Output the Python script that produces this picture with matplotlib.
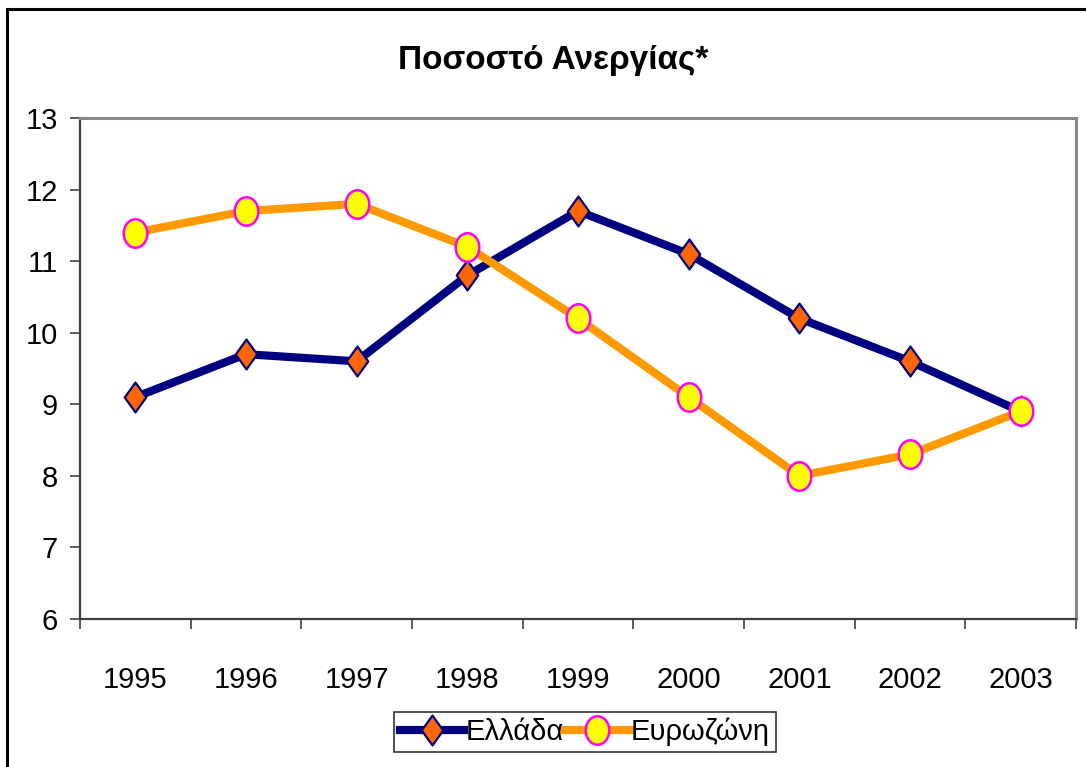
import matplotlib
matplotlib.use("Agg")
import matplotlib.pyplot as plt
from matplotlib.patches import Rectangle
from matplotlib.path import Path
from matplotlib.transforms import Affine2D

plt.rcParams['font.family'] = ['Liberation Sans', 'DejaVu Sans']
fs_tick, fs_title, fs_leg = 21, 24, 21

years = ['1995', '1996', '1997', '1998', '1999', '2000', '2001', '2002', '2003']
greece = [9.1, 9.7, 9.6, 10.8, 11.7, 11.1, 10.2, 9.6, 8.9]
eurozone = [11.4, 11.7, 11.8, 11.2, 10.2, 9.1, 8.0, 8.3, 8.9]
yticks = [6, 7, 8, 9, 10, 11, 12, 13]
title = 'Ποσοστό Ανεργίας*'
labels = ['Ελλάδα', 'Ευρωζώνη']

W, H = 1086, 767
fig = plt.figure(figsize=(W / 100, H / 100), dpi=100)
fig.patch.set_facecolor('white')

# outer chart border (cropped at right / bottom)
fig.patches.append(Rectangle((7 / W, -0.05), 1.2, 1 - 9 / H + 0.05, transform=fig.transFigure,
                             fill=False, edgecolor='black', linewidth=2.2, zorder=0))

left, right, top, bottom = 80, 1076, 118, 619
ax = fig.add_axes([left / W, 1 - bottom / H, (right - left) / W, (bottom - top) / H])

diamond = Path([(0, 0.5), (0.36, 0), (0, -0.5), (-0.36, 0), (0, 0.5)],
               [Path.MOVETO, Path.LINETO, Path.LINETO, Path.LINETO, Path.CLOSEPOLY])
ell = Path.unit_circle().transformed(Affine2D().scale(0.83, 1.0))

x = list(range(len(years)))
ax.plot(x, greece, color='#000080', linewidth=5.9, marker=diamond, markersize=21.5,
        markerfacecolor='#FF6600', markeredgecolor='#000080', markeredgewidth=1.6,
        label=labels[0], zorder=3, solid_joinstyle='round')

ax.plot(x, eurozone, color='#FF9900', linewidth=5.9, marker=ell, markersize=20.5,
        markerfacecolor='#FFFF00', markeredgecolor='#FF00FF', markeredgewidth=1.8,
        label=labels[1], zorder=4, solid_joinstyle='round')

ax.set_xlim(-0.5, len(years) - 0.5)
ax.set_ylim(6, 13)
ax.set_yticks(yticks)
ax.set_yticklabels([str(v) for v in yticks])
ax.set_xticks(x)
ax.set_xticklabels(years)
ax.set_xticks([i - 0.5 for i in range(len(years) + 1)], minor=True)
ax.tick_params(axis='x', which='major', length=0, pad=34, labelsize=fs_tick)
ax.tick_params(axis='x', which='minor', length=7, width=1.2, color='#404040', direction='out')
ax.tick_params(axis='y', which='major', length=7, width=1.2, color='#404040', direction='out',
               pad=9, labelsize=fs_tick)

for s in ['top', 'right']:
    ax.spines[s].set_color('#888888')
    ax.spines[s].set_linewidth(2.2)
for s in ['left', 'bottom']:
    ax.spines[s].set_color('#404040')
    ax.spines[s].set_linewidth(1.6)

fig.text(553 / W, 1 - 60 / H, title, ha='center', va='center', fontsize=fs_title, fontweight='bold')

leg = ax.legend(loc='center', bbox_to_anchor=(585 / W, 1 - 732 / H), bbox_transform=fig.transFigure,
                ncol=2, frameon=True, fancybox=False, fontsize=fs_leg, handlelength=2.2,
                handletextpad=0.05, columnspacing=0.05, borderpad=0.2, borderaxespad=0,
                numpoints=1)
leg.get_frame().set_edgecolor('black')
leg.get_frame().set_linewidth(1.2)

fig.savefig('out.png', dpi=100, facecolor='white')
